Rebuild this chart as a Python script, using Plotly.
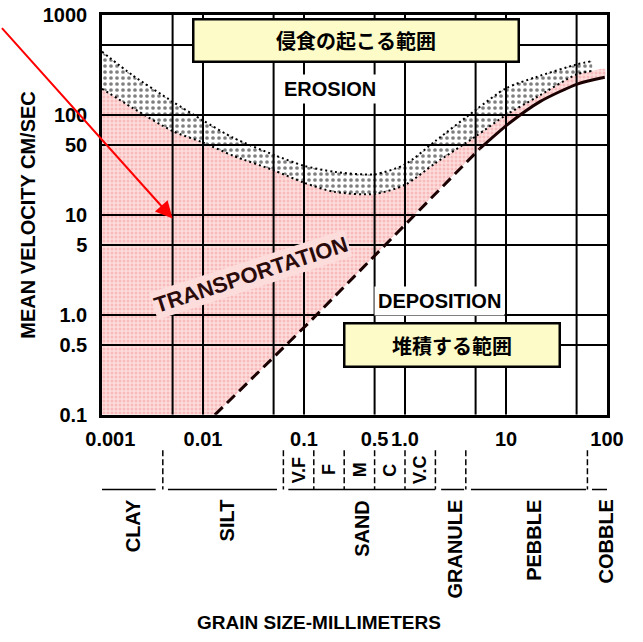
import math
import plotly.graph_objects as go

# ---- Hjulstrom diagram data: grain size (mm) vs. mean velocity (cm/s) ----
# erosion band (stippled): upper and lower limit of the threshold for erosion
erosion_upper_mm = [0.001, 0.002, 0.005, 0.01, 0.02, 0.05, 0.1, 0.2, 0.5, 1.0, 2.0, 5.0, 10, 20, 50, 70]
erosion_upper_cms = [430, 250, 136, 88, 59, 40, 31, 27, 25.5, 32, 55, 112, 185, 240, 320, 345]
erosion_lower_mm = [0.001, 0.002, 0.005, 0.01, 0.02, 0.05, 0.1, 0.2, 0.5, 1.0, 2.0, 5.0, 10, 20, 50, 70, 95]
erosion_lower_cms = [183, 118, 69, 53, 39, 28, 21, 17, 16.2, 20, 33, 61, 100, 150, 255, 275, 288]

# deposition (settling) threshold: dashed part and solid part
settling_dash_mm = [0.0131, 0.115, 5.5]
settling_dash_cms = [0.1, 0.86, 46]
settling_solid_mm = [5.5, 10.5, 21.7, 51.6, 95]
settling_solid_cms = [46, 81, 136, 205, 238]

# axis ticks and grid
x_tickvals = [0.001, 0.01, 0.1, 0.5, 1, 10, 100]
x_ticktext = ["\u00a0\u00a0\u00a00.001", "0.01", "0.1", "0.5", "1.0", "10", "100"]
y_tickvals = [0.1, 0.5, 1, 5, 10, 50, 100, 1000]
y_ticktext = ["0.1", "0.5", "1.0", "5", "10", "50", "100", "1000"]
x_grid = [0.005, 0.01, 0.05, 0.1, 0.5, 1, 5, 10, 50]
y_grid = [0.5, 1, 5, 10, 50, 100, 500]

# Wentworth grain-size classes
class_names = ["CLAY", "SILT", "SAND", "GRANULE", "PEBBLE", "COBBLE"]
class_label_mm = [0.002, 0.0173, 0.375, 3.1, 18.9, 98]
class_breaks_mm = [0.004, 0.0625, 0.125, 0.25, 0.5, 1, 2, 4, 64]
class_bars_mm = [(0.001, 0.0034), (0.0045, 0.054), (0.07, 1.99), (2.28, 3.85), (4.5, 62), (71, 110)]
sand_names = ["V.F", "F", "M", "C", "V.C"]
sand_label_mm = [0.088, 0.177, 0.354, 0.707, 1.41]

arrow_tip = (0.005, 9.2)

FONT = "Liberation Sans"
CJK = "Noto Sans CJK JP"
PINK_BG = "#fddcdc"
PINK_FG = "#f39a9a"

fig = go.Figure()

# transportation field (pink)
tx = [0.001] + erosion_lower_mm + settling_solid_mm[::-1] + settling_dash_mm[::-1][1:]
ty = [0.1] + erosion_lower_cms + settling_solid_cms[::-1] + settling_dash_cms[::-1][1:]
fig.add_trace(go.Scatter(
    x=tx, y=ty, mode="lines", fill="toself", line=dict(width=0, shape="spline", smoothing=0.7),
    fillcolor=PINK_BG,
    fillpattern=dict(shape=".", fgcolor=PINK_FG, bgcolor=PINK_BG, size=4, solidity=0.45),
    hoverinfo="skip", showlegend=False))

# erosion threshold band (stippled)
ex = erosion_upper_mm + [d for d in erosion_lower_mm if d <= 70][::-1]
ey = erosion_upper_cms + [v for d, v in zip(erosion_lower_mm, erosion_lower_cms) if d <= 70][::-1]
fig.add_trace(go.Scatter(
    x=ex, y=ey, mode="lines", fill="toself", line=dict(width=0, shape="spline", smoothing=0.7),
    fillcolor="white",
    fillpattern=dict(shape=".", fgcolor="black", bgcolor="white", size=6, solidity=0.3),
    hoverinfo="skip", showlegend=False))

# grid lines drawn over the fields
gx, gy = [], []
for xv in x_grid:
    gx += [xv, xv, None]
    gy += [0.1, 1000, None]
for yv in y_grid:
    gx += [0.001, 100, None]
    gy += [yv, yv, None]
fig.add_trace(go.Scatter(x=gx, y=gy, mode="lines", line=dict(color="black", width=2),
                         hoverinfo="skip", showlegend=False))

# dotted edges of the erosion band
fig.add_trace(go.Scatter(x=erosion_upper_mm, y=erosion_upper_cms, mode="lines",
                         line=dict(color="black", width=2, dash="2px,3px", shape="spline", smoothing=0.7),
                         hoverinfo="skip", showlegend=False))
fig.add_trace(go.Scatter(x=[d for d in erosion_lower_mm if d <= 70],
                         y=[v for d, v in zip(erosion_lower_mm, erosion_lower_cms) if d <= 70],
                         mode="lines",
                         line=dict(color="black", width=2, dash="2px,3px", shape="spline", smoothing=0.7),
                         hoverinfo="skip", showlegend=False))

# deposition threshold
fig.add_trace(go.Scatter(x=settling_dash_mm, y=settling_dash_cms, mode="lines",
                         line=dict(color="#1a0000", width=3, dash="11px,6px"),
                         hoverinfo="skip", showlegend=False))
fig.add_trace(go.Scatter(x=settling_solid_mm, y=settling_solid_cms, mode="lines",
                         line=dict(color="#1a0000", width=3, shape="spline", smoothing=0.7),
                         hoverinfo="skip", showlegend=False))

# grain-size class scale under the axis (yaxis2 counts pixels below the plot)
bx, by = [], []
for b in class_breaks_mm:
    bx += [b, b, None]
    by += [36, 76, None]
fig.add_trace(go.Scatter(x=bx, y=by, xaxis="x", yaxis="y2", mode="lines",
                         line=dict(color="black", width=1.5, dash="6px,3px"),
                         hoverinfo="skip", showlegend=False))
sx, sy = [], []
for a, b in class_bars_mm:
    sx += [a, b, None]
    sy += [76, 76, None]
fig.add_trace(go.Scatter(x=sx, y=sy, xaxis="x", yaxis="y2", mode="lines",
                         line=dict(color="black", width=1.5),
                         hoverinfo="skip", showlegend=False))

bold = dict(family=FONT, color="black", weight="bold")
annotations = []
for name, d in zip(class_names, class_label_mm):
    annotations.append(dict(text=name, x=math.log10(d), y=84, xref="x", yref="y2",
                            textangle=-90, xanchor="center", yanchor="top", showarrow=False,
                            font=dict(size=20, **bold)))
for name, d in zip(sand_names, sand_label_mm):
    annotations.append(dict(text=name, x=math.log10(d), y=56, xref="x", yref="y2",
                            textangle=-90, xanchor="center", yanchor="middle", showarrow=False,
                            font=dict(size=18, **bold)))
annotations.append(dict(text="GRAIN SIZE-MILLIMETERS", x=0.43, y=0, xref="x domain", yref="paper",
                        xanchor="center", yanchor="bottom", borderpad=0, yshift=-3,
                        showarrow=False, font=dict(size=19, **bold)))

# region labels
centered = dict(xref="x domain", yref="y domain", xanchor="center", yanchor="middle", showarrow=False)
annotations += [
    dict(text="侵食の起こる範囲", x=0.503, y=0.937, **centered,
         font=dict(family=CJK, size=20, color="black", weight="bold"),
         bgcolor="#fdfcc8", bordercolor="black", borderwidth=2.5, borderpad=0,
         width=323, height=40),
    dict(text="堆積する範囲", x=0.693, y=0.1745, **centered,
         font=dict(family=CJK, size=20, color="black", weight="bold"),
         bgcolor="#fdfcc8", bordercolor="black", borderwidth=2.5, borderpad=0,
         width=213, height=41),
    dict(text="EROSION", x=0.4515, y=0.8157, **centered,
         font=dict(size=20, **bold), bgcolor="white", borderpad=3),
    dict(text="DEPOSITION", x=0.669, y=0.285, **centered,
         font=dict(size=20, **bold), bgcolor="white", borderpad=3),
    dict(text="TRANSPORTATION", x=0.296, y=0.35, **centered, textangle=-18,
         font=dict(family=FONT, size=22, color="#2a0b0b", weight="bold"),
         bgcolor=PINK_BG, borderpad=1),
    dict(text="", x=math.log10(arrow_tip[0]), y=math.log10(arrow_tip[1]), xref="x", yref="y",
         showarrow=True, ax=-172, ay=-192, arrowcolor="#ff0000", arrowwidth=2,
         arrowhead=2, arrowsize=1.7),
]

split = 220 / 627
fig.update_layout(
    width=643, height=642,
    margin=dict(l=102, r=36, t=15, b=0),
    paper_bgcolor="white", plot_bgcolor="white",
    showlegend=False,
    xaxis=dict(type="log", range=[-3, 2], domain=[0, 1], anchor="y",
               tickvals=x_tickvals, ticktext=x_ticktext, tickangle=0,
               tickfont=dict(size=20, **bold), ticks="", ticklabelstandoff=4,
               showgrid=False, zeroline=False,
               showline=True, linecolor="black", linewidth=2.5, mirror=True),
    yaxis=dict(type="log", range=[-1, 3], domain=[split, 1], anchor="x",
               tickvals=y_tickvals, ticktext=y_ticktext,
               tickfont=dict(size=20, **bold), ticks="", ticklabelstandoff=8,
               showgrid=False, zeroline=False,
               showline=True, linecolor="black", linewidth=2.5, mirror=True,
               title=dict(text="MEAN VELOCITY CM/SEC", font=dict(size=20, **bold), standoff=2)),
    yaxis2=dict(domain=[0, split], range=[220, 0], anchor="x", visible=False,
                showgrid=False, zeroline=False),
    annotations=annotations,
)

fig.write_html("out.html")
